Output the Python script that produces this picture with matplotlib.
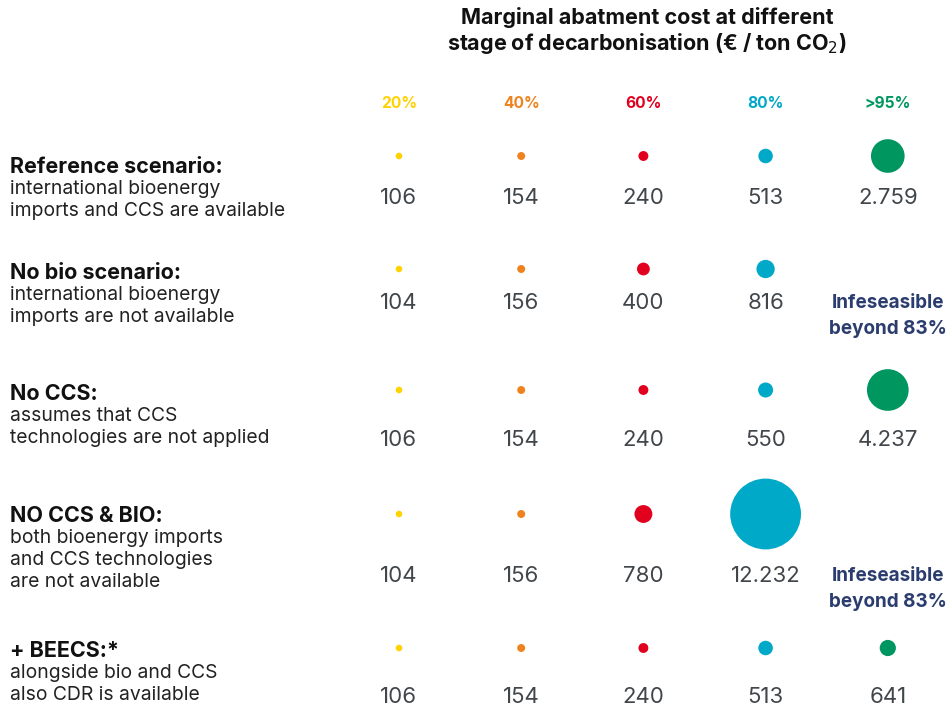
import matplotlib.pyplot as plt
import numpy as np

plt.rcParams['font.family'] = ['Inter', 'DejaVu Sans']

# data
stages = ["20%", "40%", "60%", "80%", ">95%"]
stage_colors = ["#FFD200", "#F0821E", "#E1001E", "#00A9C8", "#00965F"]
scenario_titles = ["Reference scenario:", "No bio scenario:", "No CCS:",
                   "NO CCS & BIO:", "+ BEECS:*"]
scenario_notes = [
    ["international bioenergy", "imports and CCS are available"],
    ["international bioenergy", "imports are not available"],
    ["assumes that CCS", "technologies are not applied"],
    ["both bioenergy imports", "and CCS technologies", "are not available"],
    ["alongside bio and CCS", "also CDR is available"],
]
costs = [
    [106, 154, 240, 513, 2759],
    [104, 156, 400, 816, None],
    [106, 154, 240, 550, 4237],
    [104, 156, 780, 12232, None],
    [106, 154, 240, 513, 641],
]
infeasible_lines = ["Infeseasible", "beyond 83%"]

# layout (pixel coords, figure is 953 x 709)
COL_X0, COL_DX = 399, 122.2
ROW_Y = [156, 269, 390, 514, 648]
LABEL_Y = [198, 303, 440, 576, 697]
TEXT_TOP = [167, 273, 394, 516, 651]
LINE_H = 22
SIZE_SCALE = 0.2126  # marker area (pt^2) per euro

fig = plt.figure(figsize=(9.53, 7.09), dpi=100)
ax = fig.add_axes([0, 0, 1, 1])
ax.set_xlim(0, 953)
ax.set_ylim(709, 0)
ax.axis('off')

ax.text(647, 17, "Marginal abatment cost at different",
        ha='center', va='center', fontsize=15.5, fontweight='bold',
        color='#111111')
ax.text(647, 43, "stage of decarbonisation (€ / ton CO$_2$)",
        ha='center', va='center', fontsize=15.5, fontweight='bold',
        color='#111111')

col_x = [COL_X0 + COL_DX * i for i in range(len(stages))]
for x, s, c in zip(col_x, stages, stage_colors):
    ax.text(x, 103, s, ha='center', va='center', fontsize=11.2,
            fontweight='bold', color=c)

for r, (title, note, row) in enumerate(zip(scenario_titles, scenario_notes, costs)):
    ax.text(10, TEXT_TOP[r], title, ha='left', va='center', fontsize=15.5,
            fontweight='bold', color='#111111')
    for k, line in enumerate(note):
        ax.text(10, TEXT_TOP[r] + LINE_H * (k + 1), line, ha='left',
                va='center', fontsize=13.9, color='#222222')
    for i, v in enumerate(row):
        if v is None:
            for k, line in enumerate(infeasible_lines):
                ax.text(col_x[i], LABEL_Y[r] + 26 * k, line, ha='center',
                        va='center', fontsize=13.6, fontweight='bold',
                        color='#2B3C6E')
            continue
        ax.scatter(col_x[i], ROW_Y[r], s=v * SIZE_SCALE, color=stage_colors[i],
                   edgecolors='none')
        label = "{:,}".format(v).replace(",", ".")
        ax.text(col_x[i], LABEL_Y[r], label, ha='center', va='center',
                fontsize=16, color='#41464B')

fig.savefig("out.png", dpi=100)
